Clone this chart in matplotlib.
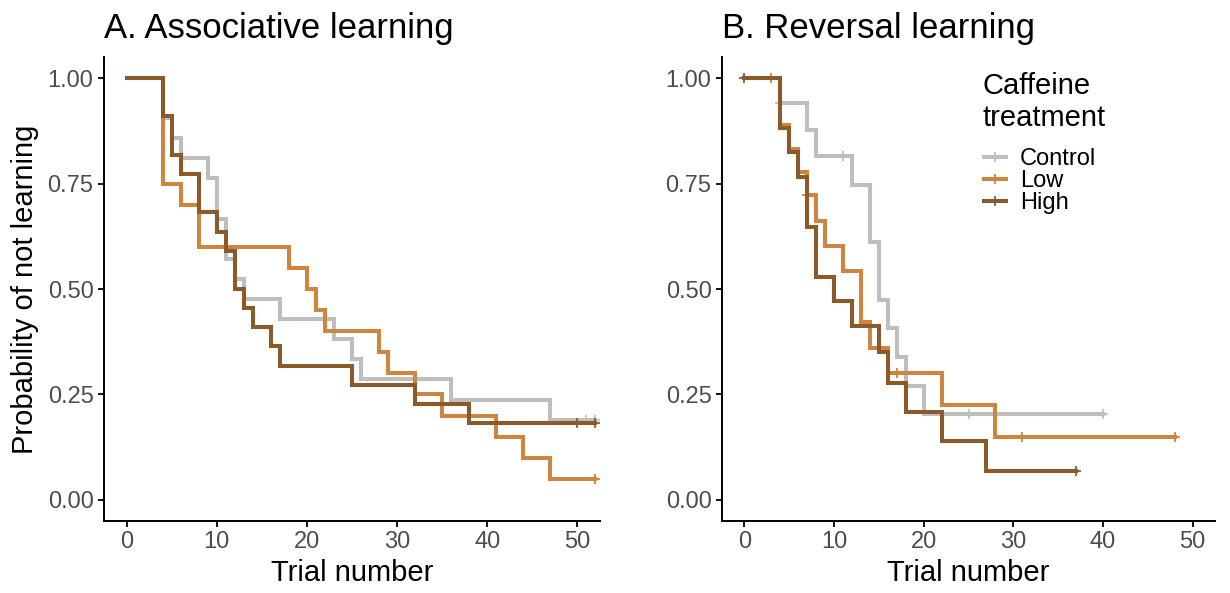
import numpy as np
import matplotlib
matplotlib.use("Agg")
import matplotlib.pyplot as plt
from matplotlib.lines import Line2D

plt.rcParams["font.family"] = ["Liberation Sans", "DejaVu Sans"]

GREY, ORANGE, BROWN = "#bebebe", "#cd853f", "#8b5a2b"
TICK = "#4d4d4d"

groups = ["Control", "Low", "High"]
colors = [GREY, ORANGE, BROWN]

# Panel A: associative learning (event times, survival after each event)
a_ctrl_t = [4, 5, 6, 9, 10, 11, 12, 13, 17, 23, 25, 26, 36, 47]
a_ctrl_s = [0.905, 0.857, 0.810, 0.762, 0.667, 0.571, 0.524, 0.476, 0.429,
            0.381, 0.333, 0.286, 0.238, 0.190]
a_ctrl_end, a_ctrl_cens = 52, [51, 52]

a_low_t = [4, 6, 8, 18, 20, 21, 22, 28, 29, 32, 35, 41, 44, 47]
a_low_s = [0.75, 0.70, 0.60, 0.55, 0.50, 0.45, 0.40, 0.35, 0.30, 0.25,
           0.20, 0.15, 0.10, 0.05]
a_low_end, a_low_cens = 52, [52]

a_high_t = [4, 5, 6, 8, 10, 11, 12, 13, 14, 16, 17, 25, 32, 38]
a_high_s = [0.909, 0.818, 0.773, 0.682, 0.636, 0.591, 0.500, 0.455, 0.409,
            0.364, 0.318, 0.273, 0.227, 0.182]
a_high_end, a_high_cens = 52, [50, 52]

# Panel B: reversal learning
b_ctrl_t = [4, 7, 8, 12, 14, 15, 16, 17, 18, 20]
b_ctrl_s = [0.941, 0.878, 0.815, 0.747, 0.611, 0.475, 0.407, 0.339, 0.271,
            0.203]
b_ctrl_end, b_ctrl_cens = 40, [4, 11, 25, 28, 40]

b_low_t = [4, 5, 6, 7, 8, 9, 11, 13, 14, 16, 22, 28]
b_low_s = [0.889, 0.833, 0.778, 0.722, 0.662, 0.602, 0.542, 0.421, 0.361,
           0.301, 0.226, 0.150]
b_low_end, b_low_cens = 48, [3, 7, 17, 31, 48]

b_high_t = [4, 5, 6, 7, 8, 10, 12, 15, 16, 18, 22, 27]
b_high_s = [0.882, 0.824, 0.765, 0.647, 0.529, 0.471, 0.412, 0.350, 0.277,
            0.208, 0.139, 0.069]
b_high_end, b_high_cens = 37, [0, 37]

panels = [
    ("A. Associative learning",
     [(a_ctrl_t, a_ctrl_s, a_ctrl_end, a_ctrl_cens),
      (a_low_t, a_low_s, a_low_end, a_low_cens),
      (a_high_t, a_high_s, a_high_end, a_high_cens)]),
    ("B. Reversal learning",
     [(b_ctrl_t, b_ctrl_s, b_ctrl_end, b_ctrl_cens),
      (b_low_t, b_low_s, b_low_end, b_low_cens),
      (b_high_t, b_high_s, b_high_end, b_high_cens)]),
]

LW = 2.9
W, H = 1230, 593
fig = plt.figure(figsize=(W / 100, H / 100), dpi=100)
bottom, top = 1 - 521 / H, 1 - 57 / H
axes = [fig.add_axes([104 / W, bottom, (600 - 104) / W, top - bottom]),
        fig.add_axes([722 / W, bottom, (1215 - 722) / W, top - bottom])]

for ax, (title, series) in zip(axes, panels):
    for (t, s, end, cens), c in zip(series, colors):
        x = np.array([0] + t + [end], dtype=float)
        y = np.array([1.0] + s + [s[-1]])
        ax.step(x, y, where="post", color=c, lw=LW, solid_joinstyle="miter")
        idx = np.searchsorted(x[:-1], cens, side="right") - 1
        ax.plot(cens, y[idx], ls="none", marker="+", ms=7, mew=1.3, color=c)

    ax.set_xlim(-2.5, 52.5)
    ax.set_ylim(-0.05, 1.05)
    ax.set_xticks([0, 10, 20, 30, 40, 50])
    ax.set_yticks([0, 0.25, 0.5, 0.75, 1.0])
    ax.set_yticklabels(["0.00", "0.25", "0.50", "0.75", "1.00"])
    ax.tick_params(labelsize=17, labelcolor=TICK, length=4.5, width=1.3,
                   color="black", pad=3)
    for side in ("top", "right"):
        ax.spines[side].set_visible(False)
    for side in ("left", "bottom"):
        ax.spines[side].set_linewidth(1.4)
    ax.set_xlabel("Trial number", fontsize=21, labelpad=4)
    ax.set_title(title, fontsize=25, loc="left", pad=14)

axes[0].set_ylabel("Probability of not learning", fontsize=21, labelpad=6)

# legend: title drawn as its own text so the gap above the keys can match
axes[1].text(0.529, 0.968, "Caffeine\ntreatment", transform=axes[1].transAxes,
             ha="left", va="top", fontsize=21)
handles = [Line2D([], [], color=c, lw=LW, marker="+", ms=7, mew=1.3)
           for c in colors]
axes[1].legend(handles, groups, loc="upper left", bbox_to_anchor=(0.532, 0.803),
               frameon=False, fontsize=17, handlelength=0.9, handletextpad=0.6,
               labelspacing=0.0, borderpad=0, borderaxespad=0)

fig.savefig("out.png", dpi=100)
